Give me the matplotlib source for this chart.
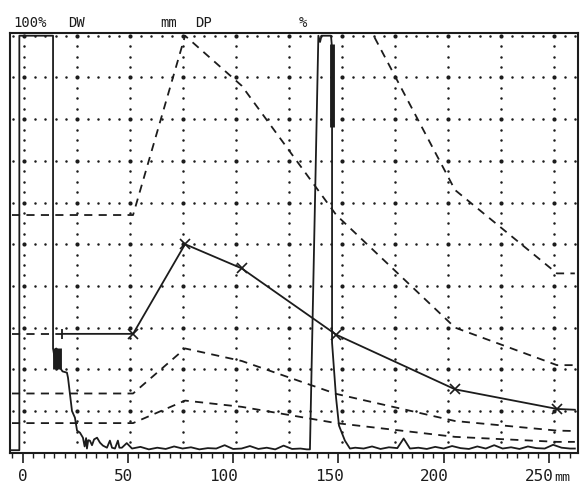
import matplotlib
matplotlib.use("Agg")
import matplotlib.pyplot as plt
import matplotlib.transforms as mtransforms

# ---------------- data ----------------
# main DAC curve (solid, % screen height vs depth mm)
dac_x = [18.8, 52.5, 77.2, 104.1, 149.0, 205.4, 253.8, 262.3]
dac_y = [28.5, 28.5, 50.0, 44.2, 28.3, 15.2, 10.5, 10.3]
dac_lead_x = [-5.0, 18.8]
dac_lead_y = [28.5, 28.5]
dac_marker_x = [52.5, 77.2, 104.1, 149.0, 205.4, 253.8]
dac_marker_y = [28.5, 50.0, 44.2, 28.3, 15.2, 10.5]

# offset DAC curves (dashed)
off_x = [-5.0, 52.5, 77.2, 104.1, 149.0, 205.4, 253.8, 262.3]
plus12_y = [114, 114, 200, 177, 117, 63, 43, 43]
plus6_y = [57, 57, 100, 88, 57, 30, 21, 21]
minus6_y = [14.2, 14.2, 25.0, 22.0, 14.1, 7.6, 5.3, 5.2]
minus12_y = [7.1, 7.1, 12.5, 11.0, 7.1, 3.8, 2.6, 2.6]

# A-scan trace
trace_x = [-5.9, -1.5, -1.5, 14.5, 14.5, 15.5, 16.0, 16.5, 17.0, 17.8, 19.0, 21.1,
           21.6, 23.5, 24.9, 25.9, 27.3, 28.7, 29.5, 30.2, 30.6, 31.2, 32.0, 33.0,
           34.0, 35.4, 36.8, 38.2, 40.1, 41.5, 42.5, 43.9, 45.3, 46.0, 47.2, 49.5,
           52, 56, 60, 64, 68, 72, 76, 80, 84, 88, 92, 96, 100, 104, 108, 112,
           116, 120, 124, 128, 132, 135, 136.5, 140.5, 141.3, 142.0, 146.5, 147.0,
           147.0, 148.9, 150.3, 153.1, 155.5, 158, 162, 166, 170, 174, 178, 181,
           184, 188, 192, 196, 200, 204, 208, 212, 216, 220, 224, 228, 232, 236,
           240, 244, 248, 252, 256, 260, 262.3]
trace_y = [0.6, 0.6, 100, 100, 25.0, 22.0, 25.0, 20.0, 24.0, 20.4, 19.5, 19.2,
           18.0, 10.0, 8.4, 5.3, 4.8, 3.6, 1.5, 3.5, 1.0, 3.0, 2.9, 1.8,
           3.2, 3.6, 2.4, 1.7, 1.2, 2.9, 1.2, 1.0, 2.9, 1.2, 1.2, 2.3,
           1.0, 1.4, 0.8, 1.2, 0.9, 1.5, 1.0, 1.3, 0.8, 1.1, 1.0, 1.8, 0.9, 1.0, 1.6, 0.9,
           1.2, 0.8, 1.7, 0.9, 1.0, 0.8, 0.8, 100, 98.5, 100, 100, 97.0,
           26.4, 13.2, 6.5, 2.9, 1.0, 1.2, 1.0, 1.5, 0.9, 1.3, 1.1, 3.4,
           1.0, 1.2, 0.9, 1.4, 1.0, 1.6, 1.1, 0.9, 1.5, 1.0, 1.8, 1.0, 1.3, 0.9,
           1.5, 1.1, 1.0, 1.9, 1.2, 1.0, 1.0]
thick_x = [[15.6, 15.6], [17.2, 17.2], [147.2, 147.2]]
thick_y = [[25.0, 20.0], [25.0, 20.0], [98.0, 78.0]]

tick_labels = ["0", "50", "100", "150", "200", "250"]
tick_pos = [0, 50, 100, 150, 200, 250]
header = [("100%", 13), ("DW", 68), ("mm", 160), ("DP", 195), ("%", 299)]

# ---------------- figure ----------------
W, H = 581, 486
fig = plt.figure(figsize=(W / 100, H / 100), dpi=100)
ax = fig.add_axes([10 / W, 33 / H, 568 / W, 420 / H])
ax.set_xlim(-5.94, 263.8)
ax.set_ylim(-0.07, 100.65)

ink = "#1c1c1c"

# dotted screen grid (10 x 10 divisions)
col_start, col_step = 0.7, 25.17
cols = [col_start + col_step * k for k in range(11)]
rows = [10 * k for k in range(11)]
dot_x = [col_start + col_step / 5 * k for k in range(-1, 53)]
dot_y = [2.5 * k for k in range(41)]
for r in rows[1:]:
    ax.plot(dot_x, [r] * len(dot_x), ls="none", marker="o", ms=1.8, color=ink,
            mec="none", zorder=1)
for c in cols:
    ax.plot([c] * len(dot_y), dot_y, ls="none", marker="o", ms=1.8, color=ink,
            mec="none", zorder=1)
for r in rows[1:]:
    ax.plot(cols, [r] * len(cols), ls="none", marker="o", ms=3.0, color=ink,
            mec="none", zorder=1)

# DAC curves
dash = (0, (4.5, 3.5))
for ys in (plus12_y, plus6_y, minus6_y, minus12_y):
    ax.plot(off_x, ys, color=ink, lw=1.3, ls=dash, zorder=2)
ax.plot(dac_lead_x, dac_lead_y, color=ink, lw=1.3, ls=dash, zorder=2)
ax.plot(dac_x, dac_y, color=ink, lw=1.3, zorder=3)
ax.plot([dac_x[0]], [dac_y[0]], ls="none", marker="|", ms=7, mew=1.3, color=ink, zorder=3)
ax.plot(dac_marker_x, dac_marker_y, ls="none", marker="x", ms=7, mew=1.2, color=ink, zorder=3)

# A-scan trace
ax.plot(trace_x, trace_y, color=ink, lw=1.3, zorder=4, clip_on=False)
for xs, ys in zip(thick_x, thick_y):
    ax.plot(xs, ys, color=ink, lw=3.5, zorder=4, solid_capstyle="butt")

# frame & ruler
for s in ax.spines.values():
    s.set_linewidth(1.5)
    s.set_color(ink)
ax.set_yticks([])
ax.set_xticks(tick_pos)
ax.set_xticks(list(range(-5, 261, 5)), minor=True)
ax.tick_params(axis="x", which="major", direction="out", length=7.5, width=1.2,
               color=ink, labelbottom=False)
ax.tick_params(axis="x", which="minor", direction="out", length=3.8, width=1.0,
               color=ink)

mono = "DejaVu Sans Mono"
trans = ax.get_xaxis_transform()
for p, lab in zip(tick_pos, tick_labels):
    off = mtransforms.offset_copy(trans, fig=fig, x=3.8, y=-20.5, units="points")
    ax.text(p, 0, lab, transform=off, ha="right", va="baseline", fontsize=11.5,
            family=mono, color=ink)
off = mtransforms.offset_copy(trans, fig=fig, x=3.8, y=-20.5, units="points")
ax.text(tick_pos[-1], 0, "mm", transform=off, ha="left", va="baseline", fontsize=9.5,
        family=mono, color=ink)

for txt, px in header:
    fig.text(px / W, 1 - 27 / H, txt, ha="left", va="baseline", fontsize=10,
             family=mono, color=ink)

fig.savefig("out.png", dpi=100, facecolor="white")
